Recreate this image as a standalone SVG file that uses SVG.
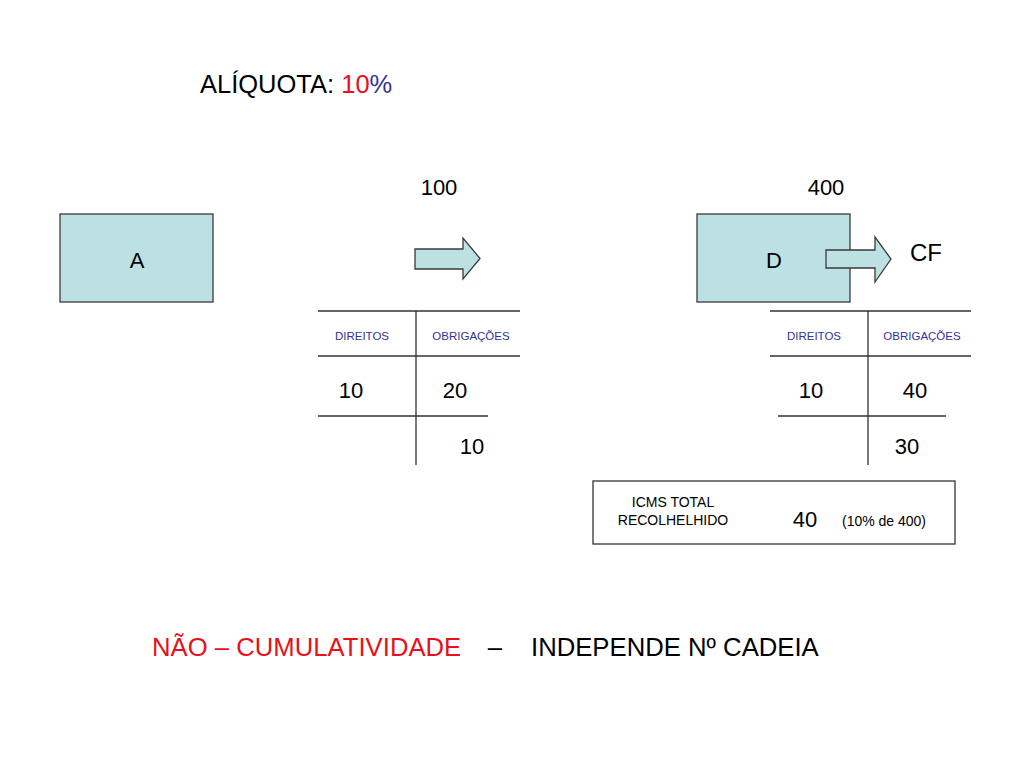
<svg xmlns="http://www.w3.org/2000/svg" width="1024" height="768" viewBox="0 0 1024 768">
<style>
text{font-family:"Liberation Sans",Arial,sans-serif;fill:#000}
.box{fill:#BDE0E3;stroke:#3a3a3a;stroke-width:1.3}
.ln{stroke:#333;stroke-width:1.3;fill:none}
.hdr{font-size:11.5px;fill:#333399;text-anchor:middle}
.num{font-size:22px;text-anchor:middle}
.red{fill:#E8101A}
.blue{fill:#333399}
</style>
<rect width="1024" height="768" fill="#fff"/>
<g id="title">
<text x="200" y="93" font-size="25.5">ALÍQUOTA: <tspan class="red">10</tspan><tspan class="blue">%</tspan></text>
</g>
<g id="nodeA">
<rect class="box" x="60" y="214" width="153" height="88"/>
<text class="num" x="137" y="268" font-size="23">A</text>
</g>
<g id="nodeD">
<rect class="box" x="697" y="214" width="153" height="88"/>
<text class="num" x="774" y="268" font-size="23">D</text>
</g>
<g id="connectors">
<polygon class="box" points="415,249 463,249 463,238 480,258.5 463,279 463,269 415,269"/>
<polygon class="box" points="826,250 875,250 875,237 891,259 875,282 875,268 826,268"/>
</g>
<g id="labels">
<text class="num" x="439" y="195">100</text>
<text class="num" x="826" y="195">400</text>
<text x="910" y="261" font-size="24">CF</text>
</g>
<g id="account1">
<path class="ln" d="M318,311H520M318,356H520M318,416H488M416,311V465"/>
<text class="hdr" x="362" y="340">DIREITOS</text>
<text class="hdr" x="471" y="340">OBRIGAÇÕES</text>
<text class="num" x="351" y="398">10</text>
<text class="num" x="455" y="398">20</text>
<text class="num" x="472" y="454">10</text>
</g>
<g id="account2">
<path class="ln" d="M770,311H971M770,356H971M778,416H946M868,311V465"/>
<text class="hdr" x="814" y="340">DIREITOS</text>
<text class="hdr" x="922" y="340">OBRIGAÇÕES</text>
<text class="num" x="811" y="398">10</text>
<text class="num" x="915" y="398">40</text>
<text class="num" x="907" y="454">30</text>
</g>
<g id="icms">
<rect x="593" y="481" width="362" height="63" fill="#fff" stroke="#333" stroke-width="1.3"/>
<text x="673" y="507" font-size="14" text-anchor="middle">ICMS TOTAL</text>
<text x="673" y="525" font-size="14" text-anchor="middle">RECOLHELHIDO</text>
<text class="num" x="805" y="527" font-size="23">40</text>
<text x="884" y="526" font-size="14" text-anchor="middle">(10% de 400)</text>
</g>
<g id="footer">
<text x="152" y="656" font-size="25.7"><tspan class="red">NÃO – CUMULATIVIDADE</tspan></text>
<text x="495" y="656" font-size="25.7" text-anchor="middle">–</text>
<text x="531" y="656" font-size="25.7">INDEPENDE Nº CADEIA</text>
</g>
</svg>
